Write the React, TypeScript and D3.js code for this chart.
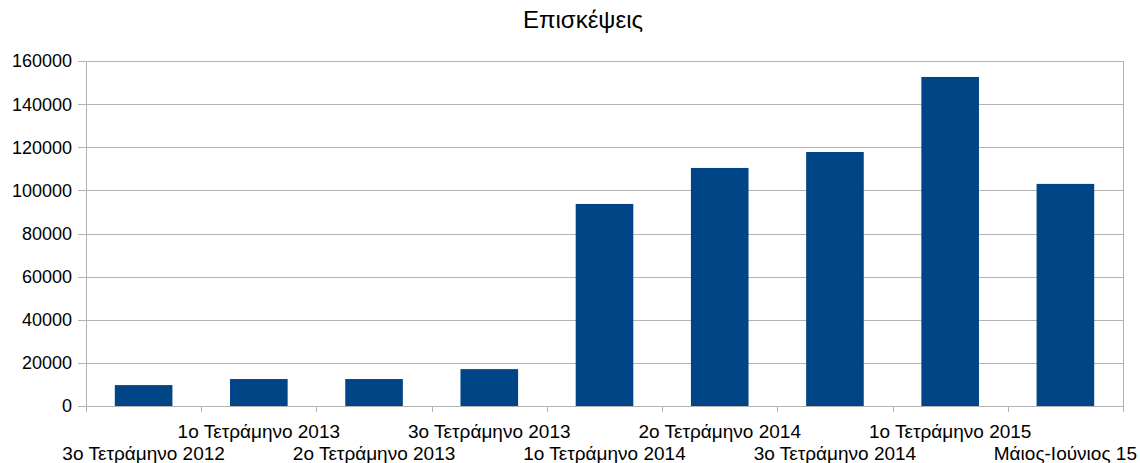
import { useEffect, useRef } from "react";
import * as d3 from "d3";

// chart data
const categories = [
  "3ο Τετράμηνο 2012",
  "1ο Τετράμηνο 2013",
  "2ο Τετράμηνο 2013",
  "3ο Τετράμηνο 2013",
  "1ο Τετράμηνο 2014",
  "2ο Τετράμηνο 2014",
  "3ο Τετράμηνο 2014",
  "1ο Τετράμηνο 2015",
  "Μάιος-Ιούνιος 15",
];
const visits = [9700, 12500, 12500, 17100, 93700, 110400, 117800, 152600, 103000];
const yTicks = [0, 20000, 40000, 60000, 80000, 100000, 120000, 140000, 160000];

const width = 1140;
const height = 463;
const margin = { top: 61, right: 17, bottom: 57, left: 86 };
const font = "'Liberation Sans', Arial, sans-serif";

export default function App() {
  const ref = useRef<SVGSVGElement>(null);

  useEffect(() => {
    const svg = d3.select(ref.current);
    svg.selectAll("*").remove();

    const x = d3.scaleBand<string>()
      .domain(categories)
      .range([margin.left, width - margin.right])
      .paddingInner(0.5)
      .paddingOuter(0.25);
    const y = d3.scaleLinear()
      .domain([0, 160000])
      .range([height - margin.bottom, margin.top]);

    // title
    svg.append("text")
      .attr("x", 583)
      .attr("y", 28)
      .attr("text-anchor", "middle")
      .attr("font-family", font)
      .attr("font-size", 24)
      .attr("fill", "#000")
      .text("Επισκέψεις");

    // horizontal gridlines + y ticks
    const grid = svg.append("g");
    grid.selectAll("line.grid")
      .data(yTicks)
      .join("line")
        .attr("x1", margin.left - 8)
        .attr("x2", width - margin.right)
        .attr("y1", d => Math.round(y(d)) + 0.5)
        .attr("y2", d => Math.round(y(d)) + 0.5)
        .attr("stroke", "#b3b3b3")
        .attr("stroke-width", 1);

    grid.selectAll("text")
      .data(yTicks)
      .join("text")
        .attr("x", margin.left - 14)
        .attr("y", d => y(d))
        .attr("dy", "0.36em")
        .attr("text-anchor", "end")
        .attr("font-family", font)
        .attr("font-size", 18)
        .attr("fill", "#000")
        .text(d => d);

    // bars
    svg.append("g")
      .selectAll("rect")
      .data(visits)
      .join("rect")
        .attr("x", (d, i) => x(categories[i])!)
        .attr("y", d => y(d))
        .attr("width", x.bandwidth())
        .attr("height", d => y(0) - y(d))
        .attr("fill", "#004586");

    // axis lines
    const x0 = margin.left + 0.5;
    const x1 = width - margin.right + 0.5;
    svg.append("line")
      .attr("x1", x0).attr("x2", x0)
      .attr("y1", margin.top).attr("y2", y(0) + 6)
      .attr("stroke", "#b3b3b3");
    svg.append("line")
      .attr("x1", x1).attr("x2", x1)
      .attr("y1", margin.top).attr("y2", y(0) + 6)
      .attr("stroke", "#b3b3b3");

    // category boundary ticks
    const step = x.step();
    const bounds = d3.range(categories.length + 1).map(i => margin.left + i * step);
    svg.append("g")
      .selectAll("line")
      .data(bounds)
      .join("line")
        .attr("x1", d => Math.round(d) + 0.5)
        .attr("x2", d => Math.round(d) + 0.5)
        .attr("y1", y(0))
        .attr("y2", y(0) + 6)
        .attr("stroke", "#b3b3b3");

    // staggered category labels
    svg.append("g")
      .selectAll("text")
      .data(categories)
      .join("text")
        .attr("x", d => x(d)! + x.bandwidth() / 2)
        .attr("y", (d, i) => (i % 2 === 0 ? 460 : 438))
        .attr("text-anchor", "middle")
        .attr("font-family", font)
        .attr("font-size", 19)
        .attr("fill", "#000")
        .text(d => d);
  }, []);

  return (
    <svg
      ref={ref}
      width={width}
      height={height}
      style={{ position: "absolute", left: 0, top: 0, background: "#fff" }}
    />
  );
}
